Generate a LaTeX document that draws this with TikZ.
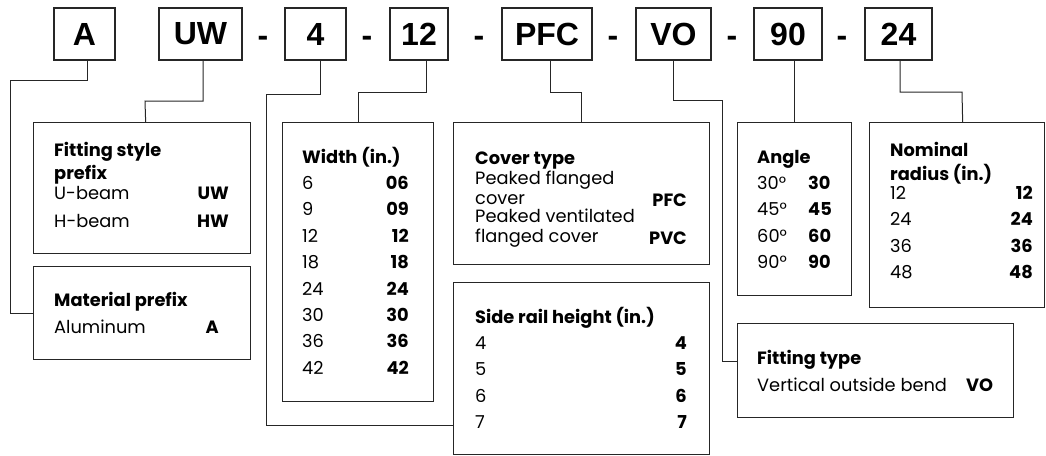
\documentclass[tikz,border=0pt]{standalone}
\usepackage{fontspec}
\setmainfont{Poppins}
\newfontfamily\codefont{Liberation Sans}
\begin{document}
\begin{tikzpicture}[x=1pt,y=-1pt,
  box/.style={draw=black!85, line width=1.3pt, inner sep=0pt, anchor=north west},
  code/.style={draw=black!85, line width=1.3pt, inner sep=0pt, minimum height=52pt,
    font=\codefont\bfseries\fontsize{32}{32}\selectfont},
  hyph/.style={inner sep=0pt, anchor=base, font=\codefont\bfseries\fontsize{32}{32}\selectfont},
  conn/.style={draw=black!85, line width=1pt},
  txt/.style={anchor=base west, inner sep=0pt, font=\fontsize{17.8}{20}\selectfont},
  val/.style={anchor=base east, inner sep=0pt, font=\fontsize{17.8}{20}\selectfont\bfseries},
  valw/.style={anchor=base west, inner sep=0pt, font=\fontsize{17.8}{20}\selectfont\bfseries},
  ttl/.style={anchor=base west, inner sep=0pt, font=\fontsize{17.8}{20}\selectfont\bfseries}]
\useasboundingbox (0,0) rectangle (1046,455);
% top code boxes
\node[code, minimum width=61pt] (cA) at (84.5,34) {A};
\node[code, minimum width=83pt] (cUW) at (200.5,34) {UW};
\node[code, minimum width=61pt] (c4) at (315.5,34) {4};
\node[code, minimum width=58pt] (c12) at (419,34) {12};
\node[code, minimum width=90pt] (cPFC) at (547,34) {PFC};
\node[code, minimum width=75pt] (cVO) at (673.5,34) {VO};
\node[code, minimum width=68pt] (c90) at (788,34) {90};
\node[code, minimum width=67pt] (c24) at (898.5,34) {24};
\node[hyph] (d1) at (263,46) {-};
\node[hyph] (d2) at (367,46) {-};
\node[hyph] (d3) at (479,46) {-};
\node[hyph] (d4) at (613,46) {-};
\node[hyph] (d5) at (732,46) {-};
\node[hyph] (d6) at (842,46) {-};
% description boxes
\node[box, minimum width=217pt, minimum height=131pt] (fs) at (33,122) {};
\node[box, minimum width=217pt, minimum height=93pt] (mat) at (33,266) {};
\node[box, minimum width=151pt, minimum height=279pt] (wid) at (282,122) {};
\node[box, minimum width=256pt, minimum height=142pt] (cov) at (453,122) {};
\node[box, minimum width=256pt, minimum height=172pt] (side) at (453,282) {};
\node[box, minimum width=114pt, minimum height=173pt] (ang) at (737,122) {};
\node[box, minimum width=175pt, minimum height=185pt] (nom) at (869,122) {};
\node[box, minimum width=276pt, minimum height=94pt] (ft) at (737,323) {};
% connectors
\draw[conn] ([xshift=2.5pt]cA.south) |- (10,80) |- (mat.west);
\draw[conn] ([xshift=2.5pt]cUW.south) |- (145,101) -- ([xshift=3.5pt]fs.north);
\draw[conn] ([xshift=4.5pt]c4.south) |- (266,94) |- (side.west |- 0,425);
\draw[conn] ([xshift=7pt]c12.south) |- (wid.north |- 0,92) -- (wid.north);
\draw[conn] ([xshift=3pt]cPFC.south) |- (cov.north |- 0,92) -- (cov.north);
\draw[conn] (cVO.south) |- (722,100) |- (ft.west |- 0,361);
\draw[conn] (c90.south -| ang.north) -- (ang.north);
\draw[conn] ([xshift=1.5pt]c24.south) |- (962,92) -- ([xshift=5.5pt]nom.north);
% fitting style prefix
\node[ttl] (fs1) at (54,156) {Fitting style};
\node[ttl] (fs2) at (54,179) {prefix};
\node[txt] (fs3) at (54,199) {U-beam};
\node[val] (fs4) at (229,199) {UW};
\node[txt] (fs5) at (54,227) {H-beam};
\node[val] (fs6) at (229,227) {HW};
% material prefix
\node[ttl] (m1) at (54,306) {Material prefix};
\node[txt] (m2) at (54,333) {Aluminum};
\node[val] (m3) at (219,333) {A};
% width
\node[ttl] (w0) at (302,163) {Width (in.)};
\foreach \a/\b [count=\i] in {6/06,9/09,12/12,18/18,24/24,30/30,36/36,42/42}{
  \node[txt] (wl\i) at (302,{163+26.4*\i}) {\a};
  \node[val] (wr\i) at (409,{163+26.4*\i}) {\b};
}
% cover type
\node[ttl] (cv0) at (475,164) {Cover type};
\node[txt] (cv1) at (475,184) {Peaked flanged};
\node[txt] (cv2) at (475,204) {cover};
\node[val] (cv3) at (687,206) {PFC};
\node[txt] (cv4) at (475,222) {Peaked ventilated};
\node[txt] (cv5) at (475,242) {flanged cover};
\node[val] (cv6) at (687,244) {PVC};
% side rail height
\node[ttl] (s0) at (475,323) {Side rail height (in.)};
\foreach \a [count=\i] in {4,5,6,7}{
  \node[txt] (sl\i) at (475,{323+26.4*\i}) {\a};
  \node[val] (sr\i) at (687,{323+26.4*\i}) {\a};
}
% angle
\node[ttl] (a0) at (757,163) {Angle};
\foreach \a [count=\i] in {30,45,60,90}{
  \node[txt] (al\i) at (757,{163+26.4*\i}) {\a°};
  \node[valw] (ar\i) at (808,{163+26.4*\i}) {\a};
}
% nominal radius
\node[ttl] (n0) at (890,156) {Nominal};
\node[ttl] (n1) at (890,180) {radius (in.)};
\foreach \a [count=\i] in {12,24,36,48}{
  \node[txt] (nl\i) at (890,{173+26.4*\i}) {\a};
  \node[val] (nr\i) at (1033,{173+26.4*\i}) {\a};
}
% fitting type
\node[ttl] (f0) at (757,364) {Fitting type};
\node[txt] (f1) at (757,391) {Vertical outside bend};
\node[valw] (f2) at (966,391) {VO};
\end{tikzpicture}
\end{document}
